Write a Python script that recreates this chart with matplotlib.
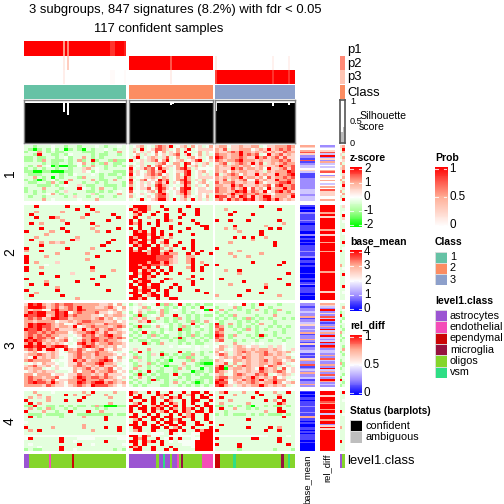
"""Consensus heatmap figure: 3 subgroups, signatures by subgroup."""
import numpy as np
import matplotlib
matplotlib.use("Agg")
import matplotlib.pyplot as plt
from matplotlib.colors import LinearSegmentedColormap, ListedColormap
from matplotlib.patches import Rectangle

plt.rcParams["font.family"] = ["Liberation Sans", "DejaVu Sans"]

W = H = 504
BLOCKS = [(24, 126), (129, 213), (215, 295)]
ROWS = [(145, 201), (205, 300), (303, 387), (391, 451)]

# sample annotations, one value per sample in each subgroup
P1 = [[1] * 17 + [.55, 1, .6] + [1] * 18 + [.85, .85] + [1] * 4 + [.9],
      [0] * 37,
      [0] * 35]
P2 = [[0] * 17 + [.12, 0, .3] + [0] * 25,
      [1] * 18 + [.75] + [1] * 18,
      [.12] + [0] * 24 + [.08] + [0] * 6 + [.08] + [0] * 2]
P3 = [[0] * 17 + [.1] + [0] * 20 + [.03, .03] + [0] * 4 + [.03],
      [0] * 18 + [.1] + [0] * 18,
      [.8] + [1] * 24 + [.85] + [1] * 6 + [.85] + [1] * 2]
SILHOUETTE = [[.94] * 17 + [.72, .94, .65] + [.94] * 18 + [.92, .92] + [.94] * 5,
              [.94] * 18 + [.89, .91] + [.94] * 17,
              [.75] + [.94] * 24 + [.85] + [.94] * 6 + [.88] + [.94] * 2]
# a astrocytes, e endothelial, d ependymal, m microglia, o oligos, v vsm
LEVEL1 = ["aa" + "o" * 9 + "e" + "o" * 9 + "d" + "o" * 23,
          "a" * 12 + "oaavaaoaaeom" + "o" * 8 + "e" * 5,
          "dd" + "o" * 6 + "v" + "o" * 20 + "m" + "oo" + "v" + "oo"]
LEVEL1_NAMES = ["astrocytes", "endothelial", "ependymal", "microglia", "oligos", "vsm"]
LEVEL1_COLORS = ["#9B55D2", "#F44DB8", "#CB0505", "#96123F", "#85D52B", "#2EDE85"]
CLASS_COLORS = ["#66C2A5", "#FC8D62", "#8DA0CB"]

# z-score levels for the heat strings
Z_LEVELS = [-2, -1.4, -.9, -.3, -.08, .5, 1, 1.5, 2]

H1A = ["33233343323323334323343", "32023242302320323343233", "23363232233332223323363",
       "33283322324333323223323", "22322332342336323233333", "22326322232362382332622",
       "33332322332346323263223", "32363402002242363323232", "23232332332335634323333",
       "22002200022335424333222", "32223333232433343232232", "33632303233326333233323",
       "23202342336333363223633", "32233263283332332323332", "33322232343353223322232",
       "23336333233384323633233", "23232332353333223232343", "33233463233233352333363",
       "32332333323533233233233", "33336343333343336333333"]
H1B = ["34563436765834563645346", "35383457765346358345", "36453547463546384336354",
       "34635346453567358346353", "35834565357346335645346", "83453567468345634578345",
       "34353335674366387453563", "63453746745546383563543", "84357674865346786354",
       "73543675684345578345643", "84545676745346378345353", "63445565365346586345",
       "84367454867346786353634", "73453546758354687345643", "63454537865343586353463",
       "83455746875454788345543", "74434563864345786345", "53453436785345686345453",
       "63443546775343575435463", "34383456885383563835353"]
H1C = ["56645565566345566676", "65735566645658567675", "65567686656565655766",
       "76656686767348567565", "87656676558675675755", "76566786665655667675",
       "56735676585735656766", "65656656645655568667", "65558675665648556757",
       "65646566556536566687", "73567646558565586678", "65656685665647566767",
       "65736567447565586676", "75667556558645567786", "66558675556567478667",
       "76657568475648566867", "76656878576584578675", "66568667667665466667",
       "87757587585688566658", "67586768785678686565"]
H2A = ["33833333833383333333", "33333333338338333333", "33633336333333633333",
       "38333333333383333833", "33833863333633333383", "33333336333333338333",
       "38363333833338333333", "33333333333333633333", "33383338333336333383",
       "83333633833333638333", "33336333333333333333", "33633333336333333333",
       "38333333385333333833", "33363656333333338333", "33383333333333383333",
       "83333333833336333333", "63383333333333338383", "33333363333363333333",
       "83336333333333833333", "83333333333363333333", "83633353333333333333",
       "33334333333333333333", "83363333333338333333", "83333333333336333633",
       "33383333353333333333", "33333383333333383333", "83333333333338333333",
       "33336333338333333333", "38338333333333833333", "33333363333333333333",
       "83333383333333338333", "33633333333333333333", "38333338333333333333",
       "33333333336333333333"]
H2B = ["3888633833333833333", "8688633383383338333", "3868338333383338333",
       "3683383383338338333", "3833633383383333333", "8383338386333383333",
       "8683838333383338333", "3383338338333333883", "8383383338333833383",
       "3868383833383333333", "3888683838333383333", "8688388636333333333",
       "8838683383333383333", "8688383683383383333", "3868838363833383333",
       "8388388636338383333", "8683688368333383833", "8888688686633838338",
       "8888887777533663333", "8888887776533683333", "8888688686533683633",
       "8868877675333383383", "8886838338333683833", "8838683838333383833",
       "3868838383383333333", "8838683333333383333", "8388633386333633833",
       "3868833833333383333", "8388388333833383333", "8838688338383333333",
       "3868838383383338333", "8838683383333333383", "3883688383333333333",
       "8868338338833333333"]
H2C = ["333333333383333333", "336333333333338333", "333383333333333333",
       "333833338333333333", "333333333333333333", "833833383333338333",
       "333333333333333633", "333383333336333333", "336363333333838333",
       "333336333383333333", "333333333383333333", "333383838336333333",
       "333333336333333333", "333633333333383333", "333333333333383333",
       "833333333333333333", "333336333333333333", "333633333363333333",
       "333363363333333333", "333333333333333333", "333333338333333833",
       "833333333333338333", "333333333333333333", "336338333333333333",
       "333336333333333383", "333333333333333333", "383333333333338333",
       "333333833333333333", "333633333336333383", "333333333338333333",
       "333333383333333333", "333333333383333333", "633338333333336333",
       "333333333333333333"]
H3A = ["58786567677666666556463", "68887567567686665567546", "65664478667687666665645",
       "68788668784676667554563", "87788568786766655465665", "67675688775666656756453",
       "66566664556567766655645", "68788765644576665576665", "68787765665845676665676",
       "87786767555658567567654", "67767676664566786575565", "67676766553457675678664",
       "68677674564346677667676", "87876565674357687676654", "68685656543478675667665",
       "88788678874457876565645", "67685885486576456754654", "45644565436675667665434",
       "56676565445676657666545", "54856565345675656675463", "67666643445867566787454",
       "34546554345575667866534", "56755645345676565755643", "65663435444656756567454",
       "45656553334646675667645", "66466645545576656575554", "67665667445687677676545",
       "67676574556678666755653", "67877686546687678867656", "66665765545676587776545"]
H3B = ["2353438262383232322", "3436243323242323833", "3453534623432343408",
       "2463223623332323433", "3282343633833232322", "2536336323263232333",
       "3365823323233262363", "2333343432323383232", "3282236342326232432",
       "2323333232382233232", "3238323243323232332", "2323262323323262322",
       "3233233223282323232", "2322322332322332323", "3338232633323232233",
       "3333333334344434343", "3533633333333334333", "2383233233383233232",
       "3233253823232263233", "3623233232322623323", "2353232320333263222",
       "3233623223336332100", "3263232302235232322", "3633233233263233032",
       "2323832233233302232", "3282323223832232323", "2363232223323233222",
       "3233282323233232232", "2323233323632320232", "3232333223323232323"]
H3C = ["333434832383332333", "233362332333233333", "363232323632326333",
       "232333323332323323", "323263333233363333", "232323262323233232",
       "323332323233323333", "823632332363323333", "763232323233232323",
       "673323263232333233", "763332333233323233", "873263323282323333",
       "763233332323332323", "673323233233233233", "343363334343333433",
       "465356545533535433", "563456656566565435", "645356765667556563",
       "576356565567656534", "456565765565565563", "654466565567566456",
       "557363565566567534", "682636765564765453", "780566565486563745",
       "765465565576567645", "563467655767345653", "677566568656574534",
       "786465767685676643", "877456567656686456", "786535656686565634"]
H4A = ["33633343333336383333633", "33363333383633633363333", "36353633333338333336333",
       "83333633383383333333333", "38363333333333333336333", "22833223232322326200022",
       "36323623323233332323333", "83336332338333833633333", "32223222233322222222322",
       "38323333233336333383333", "33333333333333333383333", "43333333333333333333333",
       "33333333333336333333333", "83333363333336333383383", "36383333333333363333383",
       "33333333333333333333333", "44444444444444444444444", "48333333833344443333344",
       "33333333833433333383333", "34333333333383343333334", "33343333833333333333333",
       "23223333833433333333232"]
H4B = ["8633838338338388383", "8383338683383683838", "3883383638683383883",
       "8338383386338388338", "3683383838638383383", "8838368683838338388",
       "8388386838638683838", "8338383683838638838", "3833838338383683383",
       "8838388388338683383", "3683383838683383383", "3838338388388338338",
       "8838383838838338833", "3883388383683383338", "3683383338838338688",
       "4444344438343344888", "8838644334444443888", "3868338348383344888",
       "8838683834344448888", "3838333833334448888", "8683383338333348888",
       "3883383383833338888"]
H4C = ["368333633833363383", "333363333383336333", "383333338333338333",
       "333633333338363833", "363333363333338633", "223232320332322323",
       "383363323233338333", "332333333336338833", "232322232323222323",
       "333333333333333833", "333333383333333333", "333333333333333333",
       "383333333333333333", "333333383333836333", "833333333338338333",
       "333333333333333333", "444444444444333343", "833333338833338333",
       "333333333333338333", "833338333333333383", "333338333333333333",
       "333332333333323332"]
HEAT = [[H1A, H1B, H1C], [H2A, H2B, H2C], [H3A, H3B, H3C], [H4A, H4B, H4C]]

# per-signature side columns, one string per row slice (0-8 maps onto the scale)
BASE_MEAN = ["6546752217123345311122222223332333",
             "1010211121011100201010111211201101000100101201110100",
             "2212232261223522326122621512233121562271232622312262",
             "1010110111211121161101001101011110100000"]
REL_DIFF = ["2345738252634346742546434647555446",
            "8888685888888688588868888688888888886888888888858888",
            "6532825273821262836283238287233262732262836273286232",
            "8885888768886883888688258588888888888888"]
MINI = ["56 38 46 53 36 45 63 36 56 38 35 46 63 36 48 35 63 46 53 38",
        "35 33 34 38 35 34 33 33 38 34 33 33 38 33 34 83 33 33 33 33 63 34 33 38 33 33 33 38 33 34 33 33",
        "33 36 34 23 83 32 24 33 23 32 63 24 32 23 33 32 36 23 32 33 23 62 32 23 33 32 24 83 32 23",
        "38 33 33 34 33 33 33 83 34 33 33 33 33 63 33 33 33 33 83 33 33 33"]

Z_TICKS = [2, 1, 0, -1, -2]
PROB_TICKS = [1, .5, 0]
BASE_TICKS = [4, 3, 2, 1, 0]
REL_TICKS = [1, .5, 0]
SIL_TICKS = [1, .5, 0]

Z_CMAP = LinearSegmentedColormap.from_list(
    "z", ["#00FF00", "#A4FF92", "#FFFFFF", "#FFAC94", "#FF0000"])
PROB_CMAP = LinearSegmentedColormap.from_list("p", ["#FFFFFF", "#FFAC94", "#FF0000"])
BLUE_CMAP = LinearSegmentedColormap.from_list(
    "b", ["#0000FF", "#9E8CFF", "#FFFFFF", "#FFAC94", "#FF0000"])

fig = plt.figure(figsize=(W / 100, H / 100), dpi=100, facecolor="white")


def px_axes(x0, y0, x1, y1):
    ax = fig.add_axes([x0 / W, 1 - y1 / H, (x1 - x0) / W, (y1 - y0) / H])
    ax.set_axis_off()
    return ax


def label(x, y, s, size=8.4, **kw):
    kw.setdefault("va", "center")
    fig.text(x / W, 1 - y / H, s, fontsize=size, **kw)


def strip(box, values, cmap, vmin=0, vmax=1, interp="nearest"):
    ax = px_axes(*box)
    ax.imshow(values, cmap=cmap, vmin=vmin, vmax=vmax, aspect="auto", interpolation=interp)
    return ax


def colorbar(box, cmap, ticks, vmin, vmax, title, title_y):
    ax = strip(box, np.linspace(vmax, vmin, 64)[:, None], cmap, vmin, vmax)
    ax.images[0].set_extent((0, 1, vmin, vmax))
    ax.set_xlim(0, 1)
    ax.set_ylim(vmin, vmax)
    span = (box[3] - box[1]) * .92
    for t in ticks:
        v = vmin + (t - vmin) * .92 + (vmax - vmin) * .04
        ax.plot([0, .25], [v, v], color="white", lw=.8, alpha=.8)
        ax.plot([.75, 1], [v, v], color="white", lw=.8, alpha=.8)
        y = box[1] + (box[3] - box[1]) * .04 + span * (vmax - t) / (vmax - vmin)
        label(box[2] + 2, y, str(t))
    label(box[0], title_y, title, size=7.5, fontweight="bold")


def swatches(x, y, names, colors, step=11.3):
    for i, (n, c) in enumerate(zip(names, colors)):
        ax = px_axes(x, y + i * step, x + 12, y + (i + 1) * step)
        ax.add_patch(Rectangle((0, 0), 1, 1, facecolor=c, edgecolor="#DDDDDD", lw=.6,
                               transform=ax.transAxes))
        label(x + 15, y + (i + .5) * step, n, size=7.8)


# titles
label(175.5, 10, "3 subgroups, 847 signatures (8.2%) with fdr < 0.05", size=9.35, ha="center")
label(159, 29, "117 confident samples", size=9.35, ha="center")

# top annotation rows and silhouette bars
for b, (x0, x1) in enumerate(BLOCKS):
    strip((x0, 41, x1, 56), [P1[b]], PROB_CMAP)
    strip((x0, 56, x1, 70), [P2[b]], PROB_CMAP)
    strip((x0, 70, x1, 84), [P3[b]], PROB_CMAP)
    strip((x0, 85, x1, 99), [[b]], ListedColormap(CLASS_COLORS), 0, 2)
    ax = px_axes(x0, 100, x1, 143)
    ax.set_axis_on()
    ax.set_xticks([])
    ax.set_yticks([])
    for s in ax.spines.values():
        s.set_color("#808080")
        s.set_linewidth(1)
    n = len(SILHOUETTE[b])
    ax.bar(np.arange(n), SILHOUETTE[b], width=1, color="black")
    ax.set_xlim(-.5, n - .5)
    ax.set_ylim(0, 1)
    codes = [[["a", "e", "d", "m", "o", "v"].index(c) for c in LEVEL1[b]]]
    strip((x0, 454, x1, 468), codes, ListedColormap(LEVEL1_COLORS), 0, 5)

# heatmap slices
for r, (y0, y1) in enumerate(ROWS):
    for b, (x0, x1) in enumerate(BLOCKS):
        rows = HEAT[r][b]
        n = max(len(s) for s in rows)
        grid = [[Z_LEVELS[int(c)] for c in s.ljust(n, s[-1])] for s in rows]
        strip((x0, y0, x1, y1), grid, Z_CMAP, -2, 2)
    strip((300, y0, 315, y1), [[int(c) * .5] for c in BASE_MEAN[r]], BLUE_CMAP, 0, 4)
    strip((320, y0, 335, y1), [[int(c) / 8] for c in REL_DIFF[r]], BLUE_CMAP, 0, 1)
    mini = [[Z_LEVELS[int(c)] for c in pair] for pair in MINI[r].split()]
    strip((340, y0, 345, y1), mini, Z_CMAP, -2, 2)
    label(10, (y0 + y1) / 2, str(r + 1), size=10, rotation=90, ha="center")

# small annotation column on the right
strip((340, 56, 345, 70), [[.6]], PROB_CMAP)
strip((340, 70, 345, 84), [[.35]], PROB_CMAP)
strip((340, 85, 345, 99), [[1]], ListedColormap(CLASS_COLORS), 0, 2)
ax = px_axes(340, 100, 345, 143)
ax.set_axis_on()
ax.set_xticks([])
ax.set_yticks([])
for s in ax.spines.values():
    s.set_color("#555555")
    s.set_linewidth(1.2)
ax.bar([0, 1], [.25, .38], width=1, color="#BBBBBB")
ax.set_xlim(-.5, 1.5)
ax.set_ylim(0, 1)
strip((340, 454, 345, 468), [[0, 4]], ListedColormap(LEVEL1_COLORS), 0, 5)

for y, s in zip([50, 64, 77, 93], ["p1", "p2", "p3", "Class"]):
    label(347, y, s, size=9.4)
for t, y in zip(SIL_TICKS, [102, 122, 143]):
    label(350, y, str(t), size=6.6)
label(359, 116, "Silhouette", size=7.6)
label(359, 127, "score", size=7.6)
label(347, 461, "level1.class", size=9.4)
label(307.5, 454, "base_mean", size=6.8, rotation=90, ha="center", va="top")
label(327.5, 454, "rel_diff", size=6.8, rotation=90, ha="center", va="top")

# legends
colorbar((350, 167, 362, 227), Z_CMAP, Z_TICKS, -2, 2, "z-score", 158)
colorbar((435, 167, 447, 227), PROB_CMAP, PROB_TICKS, 0, 1, "Prob", 158)
colorbar((350, 250, 362, 311), BLUE_CMAP, BASE_TICKS, 0, 4, "base_mean", 242)
colorbar((350, 335, 362, 395), BLUE_CMAP, REL_TICKS, 0, 1, "rel_diff", 326)
label(435, 242, "Class", size=7.5, fontweight="bold")
swatches(435, 251.5, ["1", "2", "3"], CLASS_COLORS)
label(435, 301, "level1.class", size=7.5, fontweight="bold")
swatches(435, 310, LEVEL1_NAMES, LEVEL1_COLORS)
label(350, 411, "Status (barplots)", size=7.3, fontweight="bold")
swatches(350, 420, ["confident", "ambiguous"], ["#000000", "#BEBEBE"])

fig.savefig("out.png", dpi=100)
